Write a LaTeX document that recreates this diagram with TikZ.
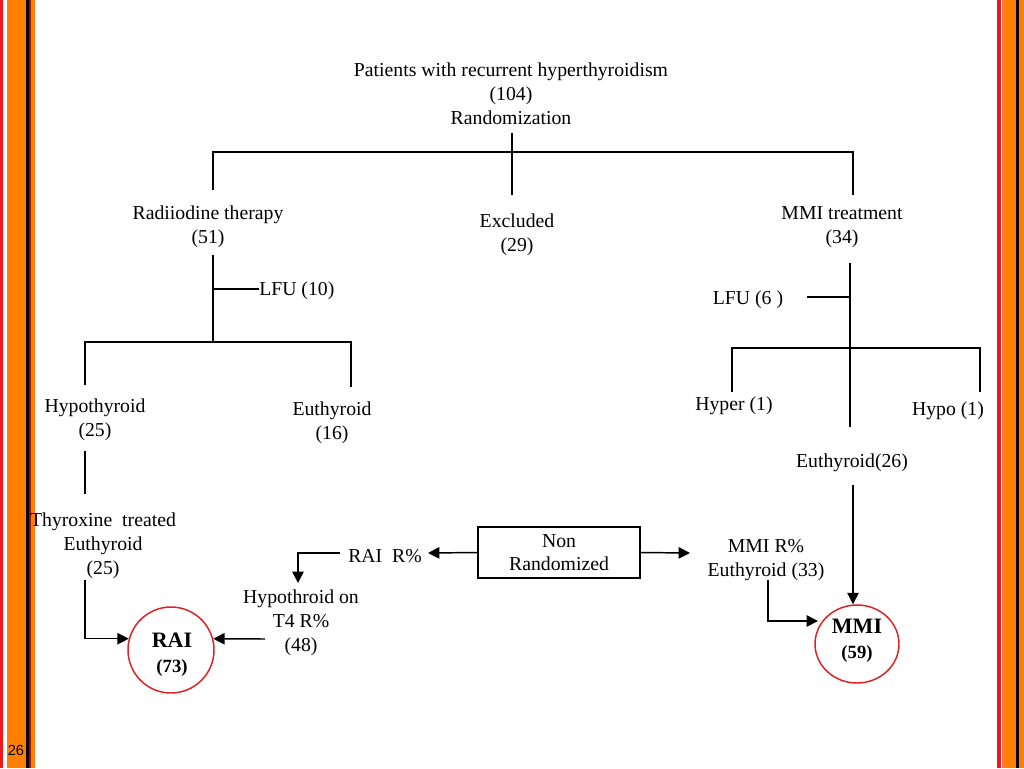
\documentclass[tikz,border=0pt]{standalone}
\usepackage{fontspec}
\setmainfont{Liberation Serif}
\newfontfamily\pagenumfont{Liberation Sans}
\usetikzlibrary{arrows.meta,shapes.geometric}
\definecolor{bord}{HTML}{FF8000}
\definecolor{bred}{HTML}{F01818}
\definecolor{cred}{HTML}{E02020}
\definecolor{dred}{HTML}{A01010}
\begin{document}
\begin{tikzpicture}[x=0.75pt,y=-0.75pt,
  txt/.style={align=center,inner sep=0pt,yshift=-1.5pt,font=\fontsize{14.8}{18}\selectfont},
  ln/.style={line width=1.1pt,draw=black},
  arr/.style={ln,-{Triangle[length=8.5pt,width=8.5pt]}},
  ring/.style={draw=cred,line width=1.1pt,inner sep=0pt},
  ringtext/.style={align=center,inner sep=0pt,font=\fontsize{14}{19}\selectfont\bfseries},
  boxed/.style={draw=black,line width=1.1pt,align=center,inner sep=0pt,
    minimum width=121.5pt,minimum height=38.25pt,font=\fontsize{14.8}{17.25}\selectfont}]
\useasboundingbox (0,0) rectangle (1024,768);
\fill[white] (0,0) rectangle (1024,768);
% left border
\fill[bred] (0,0) rectangle (3,768);
\fill[bord] (7,0) rectangle (26,768);
\fill[black] (26,0) rectangle (28.5,768);
\fill[dred] (28.5,0) rectangle (30.5,768);
\fill[bord] (30.5,0) rectangle (35,768);
% right border
\fill[bred] (997,0) rectangle (1000.5,768);
\fill[bred!60] (1002,0) rectangle (1003.5,768);
\fill[bord] (1004,0) rectangle (1016,768);
\fill[black] (1016,0) rectangle (1019,768);
\fill[bord] (1019,0) rectangle (1024,768);
\node[inner sep=0pt,font=\pagenumfont\fontsize{11}{13}\selectfont] (pg) at (16,750) {26};

% text nodes
\node[txt] (title) at (511,92) {Patients with recurrent hyperthyroidism\\(104)\\Randomization};
\node[txt] (rad) at (208,225) {Radiiodine therapy\\(51)};
\node[txt] (exc) at (517,233) {Excluded\\(29)};
\node[txt] (mmit) at (842,225) {MMI treatment\\(34)};
\node[txt,anchor=west] (lfu10) at (259,289) {LFU (10)};
\node[txt] (lfu6) at (748,298) {LFU (6 )};
\node[txt] (hypo) at (95,418) {Hypothyroid\\(25)};
\node[txt] (eu16) at (332,421) {Euthyroid\\(16)};
\node[txt] (thy) at (103,544) {Thyroxine\ \ treated\\Euthyroid\\(25)};
\node[txt] (hypt4) at (301,621) {Hypothroid on\\T4 R\%\\(48)};
\node[txt] (rair) at (385,554) {RAI\ \ R\%};
\node[boxed] (nr) at (559,552.5) {Non\\Randomized};
\node[txt] (mmir) at (766,558) {MMI R\%\\Euthyroid (33)};
\node[txt] (hyper1) at (734,404) {Hyper (1)};
\node[txt] (hypo1) at (948,409) {Hypo (1)};
\node[txt] (eu26) at (852,461) {Euthyroid(26)};
\node[ring,circle,minimum size=64.5pt] (rai) at (171,650) {};
\node[ringtext] (raitext) at (172,655) {{\fontsize{16.5}{19}\selectfont RAI}\\(73)};
\node[ring,ellipse,minimum width=63pt,minimum height=58.5pt] (mmi) at (857,644) {};
\node[ringtext] (mmitext) at (857,641) {{\fontsize{16.5}{19}\selectfont MMI}\\(59)};

% coordinates
\coordinate (ta) at (512,133);
\coordinate (tb) at (512,195);
\coordinate (hl) at (213,152);
\coordinate (hr) at (853,152);
\coordinate (hlb) at (213,190);
\coordinate (hrb) at (853,195);
\coordinate (ra) at (213,255);
\coordinate (rb) at (213,342);
\coordinate (rl) at (213,289);
\coordinate (bl) at (85,342);
\coordinate (br) at (351,342);
\coordinate (blb) at (85,385);
\coordinate (brb) at (351,387);
\coordinate (ha) at (85,451);
\coordinate (hb) at (85,494);
\coordinate (ta2) at (85,580);
\coordinate (h4) at (265,639);
\coordinate (rr1) at (340,553);
\coordinate (rr2) at (298,553);
\coordinate (rr3) at (298,583);
\coordinate (nrl) at (428,553);
\coordinate (nrr) at (690,553);
\coordinate (ma) at (768,580);
\coordinate (mb) at (818,621);
\coordinate (va) at (850,263);
\coordinate (vb) at (850,427);
\coordinate (l6a) at (807,297);
\coordinate (l6b) at (850,297);
\coordinate (xl) at (732,348);
\coordinate (xr) at (980,348);
\coordinate (xlb) at (732,392);
\coordinate (xrb) at (980,392);
\coordinate (ea) at (853,485);

% connectors
\draw[ln] (ta) -- (tb);
\draw[ln] (hlb) -- (hl) -- (hr) -- (hrb);
\draw[ln] (ra) -- (rb);
\draw[ln] (rl) -- (rl -| lfu10.west);
\draw[ln] (blb) -- (bl) -- (br) -- (brb);
\draw[ln] (ha) -- (hb);
\draw[arr] (ta2) |- (rai.165);
\draw[arr] (h4) -- (rai.15);
\draw[arr] (rr1) -- (rr2) -- (rr3);
\draw[arr] (nr.west) -- (nrl);
\draw[arr] (nr.east) -- (nrr);
\draw[arr] (ma) |- (mb);
\draw[ln] (va) -- (vb);
\draw[ln] (l6a) -- (l6b);
\draw[ln] (xlb) -- (xl) -- (xr) -- (xrb);
\draw[arr] (ea) -- (ea |- mmi.north);
\end{tikzpicture}
\end{document}
